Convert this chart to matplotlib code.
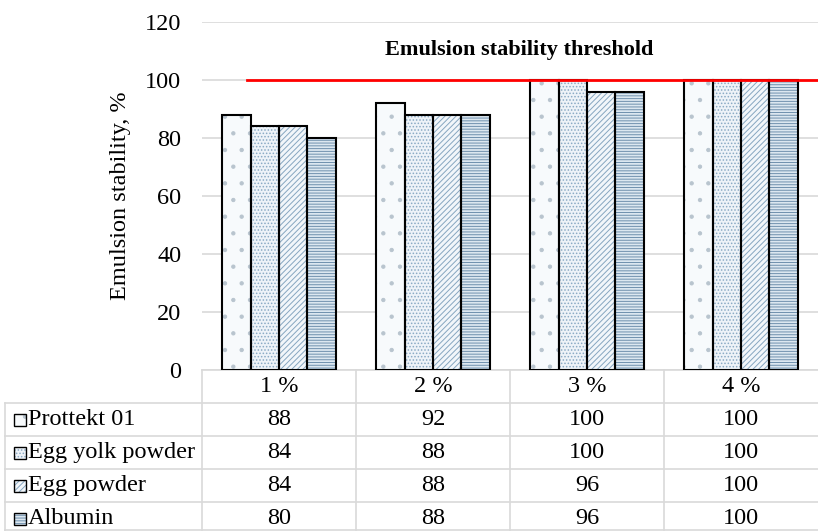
import numpy as np
import matplotlib
matplotlib.use("Agg")
import matplotlib.pyplot as plt
from matplotlib.patches import Rectangle

plt.rcParams['font.family'] = ['Liberation Serif', 'DejaVu Serif']
plt.rcParams['hatch.linewidth'] = 0.7

categories = ['1 %', '2 %', '3 %', '4 %']
series = ['Prottekt 01', 'Egg yolk powder', 'Egg powder', 'Albumin']
prottekt = [88, 92, 100, 100]
egg_yolk = [84, 88, 100, 100]
egg_powder = [84, 88, 96, 100]
albumin = [80, 88, 96, 100]
values = [prottekt, egg_yolk, egg_powder, albumin]
threshold = 100

hatches = ['.', '.....', '//////', '------']
hatch_cols = ['#b8c4ce', '#8aaac4', '#86a6c0', '#6f90ad']
face_cols = ['#f7fafc', '#eef3f8', '#f2f6fa', '#dce7f0']

W, H = 818, 531
fig = plt.figure(figsize=(W / 100, H / 100), dpi=100)

x0, x1 = 202, 818
y_top, y_bot = 22, 370
ax = fig.add_axes([x0 / W, 1 - y_bot / H, (x1 - x0) / W, (y_bot - y_top) / H])

n = len(categories)
x = np.arange(n)
bw = 0.185
for i, (name, vals) in enumerate(zip(series, values)):
    pos = x + (i - 1.5) * bw
    bars = ax.bar(pos, vals, width=bw, facecolor=face_cols[i], edgecolor='black',
                  linewidth=0, zorder=3)
    # hatch layer in its own colour, then black outline on top
    for p in bars:
        ax.add_patch(Rectangle(p.get_xy(), p.get_width(), p.get_height(), facecolor='none',
                               edgecolor=hatch_cols[i], hatch=hatches[i], linewidth=0, zorder=3.5))
        ax.add_patch(Rectangle(p.get_xy(), p.get_width(), p.get_height(), facecolor='none',
                               edgecolor='black', linewidth=1.5, zorder=3.6))

ax.set_xlim(-0.5, n - 0.5)
ax.set_ylim(0, 120)
ax.set_yticks(np.arange(0, 121, 20))
ax.tick_params(axis='y', length=0, labelsize=17.5, pad=15)
ax.set_xticks([])
ax.grid(axis='y', color='#d9d9d9', linewidth=1.2, zorder=0)
for s in ['left', 'right', 'top']:
    ax.spines[s].set_visible(False)
ax.spines['bottom'].set_color('#d9d9d9')
ax.spines['bottom'].set_linewidth(1.2)
ax.set_ylabel('Emulsion stability, %', fontsize=17.5, labelpad=10)

ax.plot([-0.21, n - 0.5], [threshold, threshold], color='#ff0000', linewidth=2, zorder=4,
        clip_on=False)
ax.text(1.56, 110.5, 'Emulsion stability threshold', ha='center', va='center',
        fontsize=16, fontweight='bold')

# data table below the axes
grid_col = '#d9d9d9'
row_h = 33
rows_y = [370 + k * row_h for k in range(6)]
col_w = (x1 - x0) / n
tf = fig.transFigure


def fx(px):
    return px / W


def fy(py):
    return 1 - py / H


def hline(xa, xb, yy):
    fig.add_artist(plt.Line2D([fx(xa), fx(xb)], [fy(yy), fy(yy)], color=grid_col, linewidth=1.2))


def vline(xx, ya, yb):
    fig.add_artist(plt.Line2D([fx(xx), fx(xx)], [fy(ya), fy(yb)], color=grid_col, linewidth=1.2))


for k in range(1, 6):
    hline(5, x1, min(rows_y[k], 530))
for j in range(n):
    vline(x0 + j * col_w, 370, 531)
vline(5, rows_y[1], 531)

for j, c in enumerate(categories):
    fig.text(fx(x0 + (j + 0.5) * col_w), fy(370 + row_h / 2), c, ha='center', va='center',
             fontsize=17.5)

for i, name in enumerate(series):
    yc = rows_y[i + 1] + row_h / 2
    fig.add_artist(Rectangle((fx(14), fy(yc + 6)), 12 / W, 12 / H, transform=tf,
                             facecolor=face_cols[i], edgecolor=hatch_cols[i], linewidth=0,
                             hatch=hatches[i]))
    fig.add_artist(Rectangle((fx(14), fy(yc + 6)), 12 / W, 12 / H, transform=tf,
                             facecolor='none', edgecolor='black', linewidth=1.0))
    fig.text(fx(28), fy(yc), name, ha='left', va='center', fontsize=17.5)
    for j, v in enumerate(values[i]):
        fig.text(fx(x0 + (j + 0.5) * col_w), fy(yc), str(v), ha='center', va='center',
                 fontsize=17.5)

fig.savefig('out.png', dpi=100)
